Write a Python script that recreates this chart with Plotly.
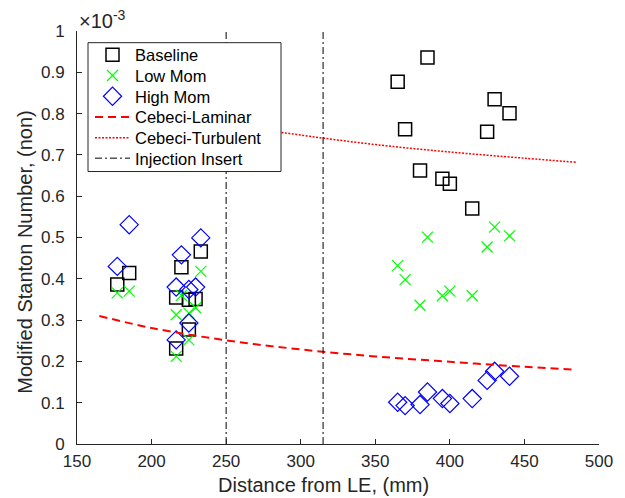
import plotly.graph_objects as go

# Streamwise measurement stations (mm from leading edge)
stations = [177, 185, 216.5, 216.5, 220, 225, 225, 229.5, 233,
            365, 370, 380, 385, 395, 400, 415, 425, 430, 440]

# Modified Stanton number, in units of 1e-3
baseline = [0.386, 0.414, 0.355, 0.231, 0.428, 0.349, 0.277, 0.351, 0.466,
            0.877, 0.762, 0.662, 0.936, 0.642, 0.630, 0.570, 0.756, 0.835, 0.801]
low_mom = [0.366, 0.370, 0.313, 0.212, 0.360, 0.317, 0.252, 0.330, 0.418,
           0.432, 0.398, 0.336, 0.501, 0.359, 0.370, 0.359, 0.477, 0.525, 0.504]
high_mom = [0.430, 0.531, 0.380, 0.252, 0.458, 0.374, 0.293, 0.380, 0.499,
            0.101, 0.093, 0.0955, 0.126, 0.110, 0.098, 0.110, 0.154, 0.176, 0.164]

# Cebeci correlations
cebeci_x = [165, 200, 250, 300, 350, 400, 450, 485]
cebeci_laminar = [0.310, 0.281, 0.251, 0.229, 0.212, 0.199, 0.187, 0.180]
cebeci_turbulent = [0.840, 0.810, 0.775, 0.748, 0.725, 0.707, 0.692, 0.682]

# Injection insert edges (mm)
insert_edges = [250, 315]

x_ticks = [150, 200, 250, 300, 350, 400, 450, 500]
y_ticks = [0, 0.1, 0.2, 0.3, 0.4, 0.5, 0.6, 0.7, 0.8, 0.9, 1]

FONT = "Liberation Sans, Arial, sans-serif"
AX = "#262626"

# Plot area in pixels, used to place the legend box and labels
L, R, T, B = 77, 599, 31, 444.5
W, H = R - L, B - T


def px_x(p):
    return (p - L) / W


def px_y(p):
    return (B - p) / H


fig = go.Figure()

# Each legend entry gets its own legend so the row spacing can be set exactly
legend_ids = ["legend", "legend2", "legend3", "legend4", "legend5", "legend6"]
row_y = [55, 75.8, 96.6, 117.4, 138.2, 158.6]

fig.add_trace(go.Scatter(
    x=stations, y=baseline, mode="markers", name="Baseline", legend=legend_ids[0],
    marker=dict(symbol="square-open", size=13, color="#000000",
                line=dict(width=1.5, color="#000000"))))
fig.add_trace(go.Scatter(
    x=stations, y=low_mom, mode="markers", name="Low Mom", legend=legend_ids[1],
    marker=dict(symbol="x-thin-open", size=11, color="#00ff00",
                line=dict(width=1.2, color="#00ff00"))))
fig.add_trace(go.Scatter(
    x=stations, y=high_mom, mode="markers", name="High Mom", legend=legend_ids[2],
    marker=dict(symbol="diamond-open", size=14, color="#0000ff",
                line=dict(width=1.2, color="#0000ff"))))
fig.add_trace(go.Scatter(
    x=cebeci_x, y=cebeci_laminar, mode="lines", name="Cebeci-Laminar", legend=legend_ids[3],
    line=dict(color="#ff0000", width=2, dash="8px,5px", shape="spline")))
fig.add_trace(go.Scatter(
    x=cebeci_x, y=cebeci_turbulent, mode="lines", name="Cebeci-Turbulent", legend=legend_ids[4],
    line=dict(color="#ff0000", width=1.5, dash="2px,1.5px", shape="spline")))

# Two vertical insert boundaries in one trace, separated by a gap
ins_x, ins_y = [], []
for e in insert_edges:
    ins_x += [e, e, None]
    ins_y += [0, 1, None]
fig.add_trace(go.Scatter(
    x=ins_x, y=ins_y, mode="lines", name="Injection Insert", legend=legend_ids[5],
    line=dict(color="#000000", width=1, dash="7px,3px,2px,3px")))

axis_common = dict(
    showgrid=False, zeroline=False, showline=True, linecolor=AX, linewidth=1,
    ticks="inside", ticklen=5, tickcolor=AX, tickwidth=1,
    tickfont=dict(family=FONT, size=17, color=AX), mirror=False,
)

legend_layout = {}
for lid, ry in zip(legend_ids, row_y):
    legend_layout[lid] = dict(
        x=px_x(90), y=px_y(ry), xanchor="left", yanchor="middle",
        bgcolor="rgba(0,0,0,0)", borderwidth=0, itemwidth=35,
        font=dict(family=FONT, size=16.5, color="#000000"))

fig.update_layout(
    width=625, height=498,
    margin=dict(l=L, r=625 - R, t=T, b=498 - B),
    paper_bgcolor="white", plot_bgcolor="white",
    showlegend=True,
    xaxis=dict(range=[150, 500], tickvals=x_ticks, ticklabelstandoff=2, **axis_common),
    yaxis=dict(range=[0, 1], tickvals=y_ticks, ticklabelstandoff=8, **axis_common),
    shapes=[dict(type="rect", xref="paper", yref="paper",
                 x0=px_x(88), x1=px_x(281), y0=px_y(171.7), y1=px_y(42.7),
                 fillcolor="white", line=dict(color=AX, width=1), layer="above")],
    annotations=[
        dict(text="Distance from LE, (mm)", xref="paper", yref="paper",
             x=px_x(323.5), y=px_y(486),
             xanchor="center", yanchor="middle", showarrow=False,
             font=dict(family=FONT, size=20, color=AX)),
        dict(text="Modified Stanton Number, (non)", xref="paper", yref="paper",
             x=px_x(25.5), y=px_y(252.5), textangle=-90,
             xanchor="center", yanchor="middle", showarrow=False,
             font=dict(family=FONT, size=20, color=AX)),
        dict(text="×10<sup>-3</sup>", xref="paper", yref="paper",
             x=px_x(77), y=px_y(19),
             xanchor="left", yanchor="middle", showarrow=False,
             font=dict(family=FONT, size=20, color=AX)),
    ],
    **legend_layout,
)

fig.write_html("out.html")
